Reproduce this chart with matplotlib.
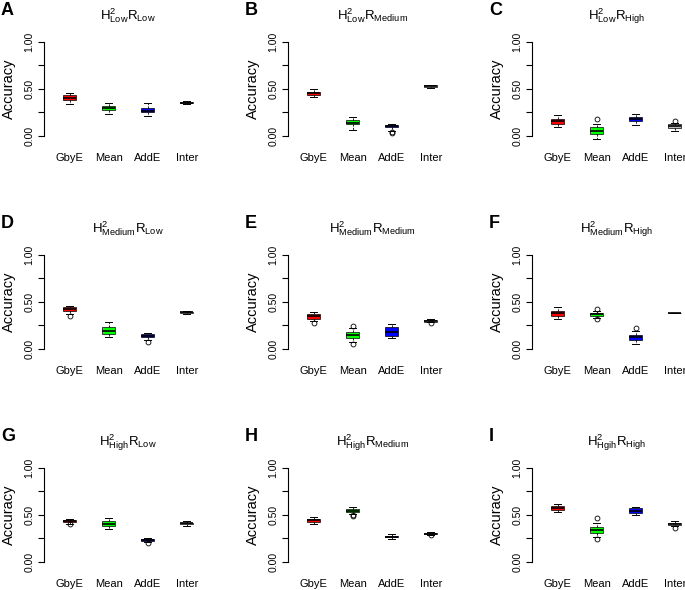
import matplotlib
matplotlib.use('Agg')
import matplotlib.pyplot as plt

plt.rcParams['font.family'] = ['Liberation Sans', 'DejaVu Sans']

methods = ['GbyE', 'Mean', 'AddE', 'Inter']
box_colors = ['#FF0000', '#00FF00', '#0000FF', '#BEBEBE']
letters = ['A', 'B', 'C', 'D', 'E', 'F', 'G', 'H', 'I']
titles = [
    r'$\mathregular{H^2_{Low}R_{Low}}$',
    r'$\mathregular{H^2_{Low}R_{Medium}}$',
    r'$\mathregular{H^2_{Low}R_{High}}$',
    r'$\mathregular{H^2_{Medium}R_{Low}}$',
    r'$\mathregular{H^2_{Medium}R_{Medium}}$',
    r'$\mathregular{H^2_{Medium}R_{High}}$',
    r'$\mathregular{H^2_{High}R_{Low}}$',
    r'$\mathregular{H^2_{High}R_{Medium}}$',
    r'$\mathregular{H^2_{Hgih}R_{High}}$',
]

# per panel, per method (GbyE, Mean, AddE, Inter)
medians = [
    [0.40, 0.30, 0.265, 0.350],
    [0.45, 0.14, 0.10, 0.530],
    [0.155, 0.05, 0.175, 0.10],
    [0.42, 0.19, 0.14, 0.390],
    [0.345, 0.15, 0.18, 0.295],
    [0.375, 0.365, 0.12, 0.380],
    [0.43, 0.405, 0.235, 0.410],
    [0.44, 0.545, 0.265, 0.300],
    [0.57, 0.34, 0.545, 0.405],
]
q1 = [
    [0.38, 0.275, 0.25, 0.345],
    [0.43, 0.12, 0.09, 0.522],
    [0.13, 0.02, 0.155, 0.08],
    [0.40, 0.16, 0.125, 0.382],
    [0.32, 0.11, 0.14, 0.287],
    [0.35, 0.35, 0.09, 0.378],
    [0.42, 0.38, 0.226, 0.400],
    [0.42, 0.53, 0.258, 0.294],
    [0.55, 0.31, 0.52, 0.396],
]
q3 = [
    [0.43, 0.32, 0.29, 0.356],
    [0.47, 0.17, 0.11, 0.536],
    [0.18, 0.09, 0.20, 0.12],
    [0.44, 0.23, 0.155, 0.396],
    [0.37, 0.18, 0.23, 0.302],
    [0.40, 0.38, 0.15, 0.382],
    [0.44, 0.43, 0.242, 0.416],
    [0.46, 0.56, 0.275, 0.310],
    [0.59, 0.37, 0.57, 0.415],
]
whis_lo = [
    [0.34, 0.23, 0.205, 0.340],
    [0.41, 0.06, 0.05, 0.512],
    [0.09, -0.03, 0.11, 0.05],
    [0.37, 0.12, 0.09, 0.372],
    [0.29, 0.07, 0.11, 0.280],
    [0.32, 0.33, 0.05, 0.377],
    [0.40, 0.35, 0.21, 0.385],
    [0.40, 0.51, 0.24, 0.285],
    [0.53, 0.26, 0.50, 0.375],
]
whis_hi = [
    [0.46, 0.35, 0.35, 0.370],
    [0.50, 0.20, 0.13, 0.545],
    [0.22, 0.12, 0.23, 0.14],
    [0.46, 0.28, 0.17, 0.402],
    [0.39, 0.22, 0.26, 0.312],
    [0.44, 0.40, 0.19, 0.383],
    [0.45, 0.47, 0.25, 0.430],
    [0.48, 0.58, 0.29, 0.320],
    [0.61, 0.41, 0.58, 0.430],
]
outliers = [
    [[], [], [], []],
    [[], [], [0.03, 0.04], []],
    [[], [0.18], [], [0.16]],
    [[0.35], [], [0.07], []],
    [[0.27], [0.05, 0.24], [], [0.27]],
    [[], [0.32, 0.42], [0.22], []],
    [[0.40], [], [0.20], []],
    [[], [0.49, 0.50], [], [0.28]],
    [[], [0.24, 0.47], [], [0.36]],
]

W, H = 685, 590
fig = plt.figure(figsize=(W / 100, H / 100), dpi=100)

ax_w, ax_h = 168.5, 101.5
for i in range(9):
    r, c = divmod(i, 3)
    left = 44 + 244 * c
    top = 38 + 213 * r
    ax = fig.add_axes([left / W, 1 - (top + ax_h) / H, ax_w / W, ax_h / H])

    stats = []
    for j in range(4):
        stats.append(dict(med=medians[i][j], q1=q1[i][j], q3=q3[i][j],
                          whislo=whis_lo[i][j], whishi=whis_hi[i][j],
                          fliers=outliers[i][j]))
    bp = ax.bxp(stats, positions=[1, 2, 3, 4], widths=0.34, capwidths=0.17,
                patch_artist=True,
                boxprops=dict(edgecolor='black', linewidth=0.5),
                medianprops=dict(color='black', linewidth=1.2),
                whiskerprops=dict(color='black', linewidth=0.6, linestyle=(0, (2.5, 1.5))),
                capprops=dict(color='black', linewidth=0.7),
                flierprops=dict(marker='o', markerfacecolor='none',
                                markeredgecolor='black', markersize=3.5,
                                markeredgewidth=0.6))
    for patch, col in zip(bp['boxes'], box_colors):
        patch.set_facecolor(col)

    ax.set_xlim(0.34, 4.66)
    ax.set_ylim(-0.04, 1.04)
    for s in ['top', 'right', 'bottom']:
        ax.spines[s].set_visible(False)
    ax.spines['left'].set_bounds(0, 1)
    ax.spines['left'].set_linewidth(0.8)

    ax.set_yticks([0, 0.25, 0.5, 0.75, 1.0])
    ax.set_yticklabels(['0.00', '', '0.50', '', '1.00'])
    ax.tick_params(axis='y', length=4, width=0.8, pad=3, labelsize=7.5)
    plt.setp(ax.get_yticklabels(), rotation=90, va='center')

    ax.set_xticks([1, 2, 3, 4])
    ax.set_xticklabels(methods)
    ax.tick_params(axis='x', length=0, pad=10, labelsize=8)

    ax.set_ylabel('Accuracy', fontsize=10.5)
    ax.yaxis.set_label_coords(-28 / ax_w, 0.5)
    ax.set_title(titles[i], fontsize=9.5, pad=13)

    fig.text((1 + 244 * c) / W, 1 - (2 + 213 * r) / H, letters[i],
             fontsize=13, fontweight='bold', ha='left', va='top')

fig.savefig('out.png', dpi=100)
